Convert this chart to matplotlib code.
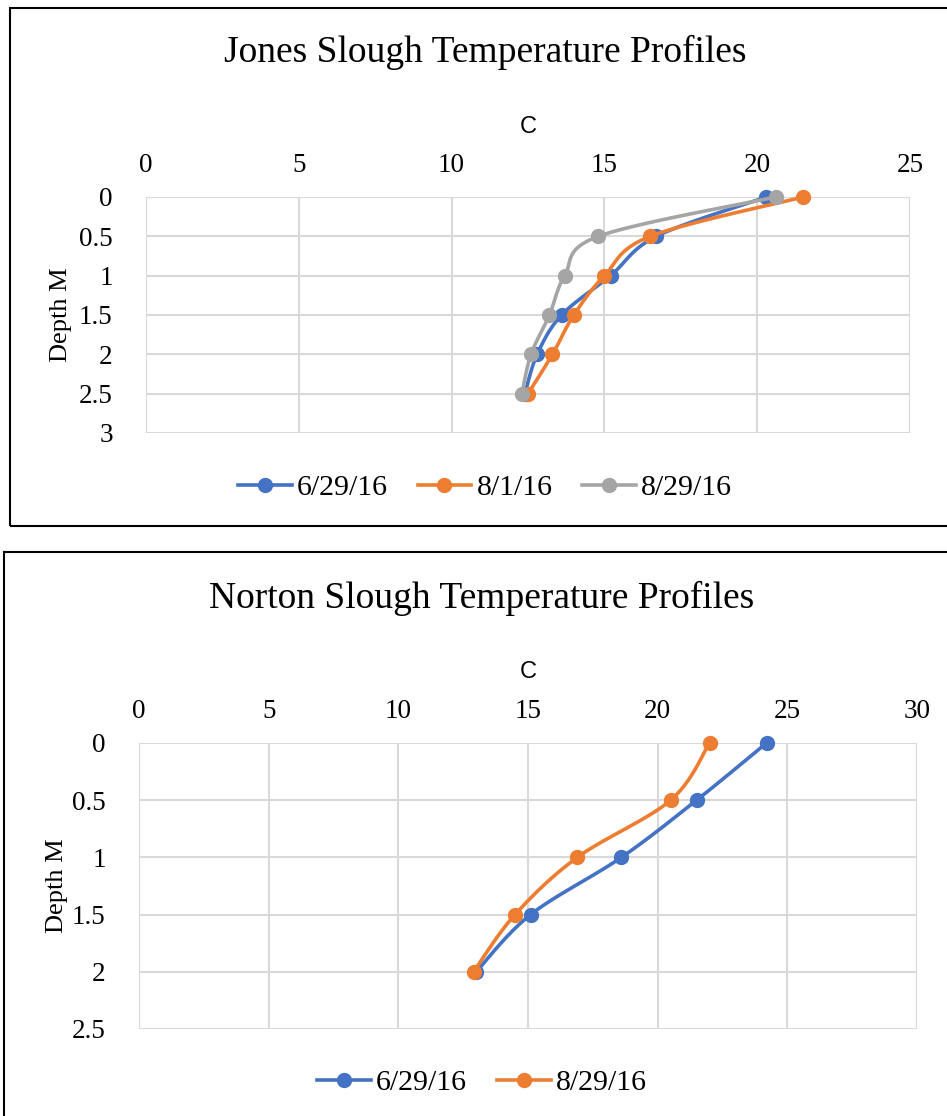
import matplotlib
matplotlib.use("Agg")
import matplotlib.pyplot as plt
import numpy as np
from matplotlib.patches import Rectangle
from matplotlib.lines import Line2D

# depth (m) and temperature (C)
jones_depth = [0, 0.5, 1, 1.5, 2, 2.5]
jones_0629 = [20.3, 16.7, 15.2, 13.6, 12.8, 12.4]
jones_0801 = [21.5, 16.5, 15.0, 14.0, 13.3, 12.5]
jones_0829 = [20.6, 14.8, 13.7, 13.2, 12.6, 12.3]
jones_labels = ['6/29/16', '8/1/16', '8/29/16']

norton_depth = [0, 0.5, 1, 1.5, 2]
norton_0629 = [24.2, 21.5, 18.6, 15.1, 13.0]
norton_0829 = [22.0, 20.5, 16.9, 14.5, 12.9]
norton_labels = ['6/29/16', '8/29/16']

colors = ['#4472C4', '#ED7D31', '#A5A5A5']
SERIF = 'Liberation Serif'
W, H = 947, 1116


def smooth(ax, xs, ys, n=20):
    # Excel-style smoothed line: Catmull-Rom in screen space
    pts = ax.transData.transform(np.column_stack([xs, ys]))
    p = np.vstack([pts[0], pts, pts[-1]])
    out = []
    for i in range(1, len(p) - 2):
        p0, p1, p2, p3 = p[i - 1], p[i], p[i + 1], p[i + 2]
        c1 = p1 + (p2 - p0) / 6.0
        c2 = p2 - (p3 - p1) / 6.0
        t = np.linspace(0, 1, n)[:, None]
        seg = ((1 - t) ** 3) * p1 + 3 * ((1 - t) ** 2) * t * c1 + 3 * (1 - t) * t ** 2 * c2 + t ** 3 * p2
        out.append(seg if i == 1 else seg[1:])
    out = np.vstack(out)
    d = ax.transData.inverted().transform(out)
    return d[:, 0], d[:, 1]


def px_axes(fig, x0, y0, x1, y1):
    return fig.add_axes([x0 / W, 1 - y1 / H, (x1 - x0) / W, (y1 - y0) / H])


def draw_panel(fig, box, ax_box, title, title_y, clabel_y, depth, series, labels, xmax, ymax, ylabel_x, leg_y):
    bx0, by0, bx1, by1 = box
    fig.patches.append(Rectangle((bx0 / W, 1 - by1 / H), (bx1 - bx0) / W, (by1 - by0) / H,
                                 transform=fig.transFigure, fill=False, edgecolor='black', lw=1.5))
    ax = px_axes(fig, *ax_box)
    ax.set_xlim(0, xmax)
    ax.set_ylim(ymax, 0)
    ax.set_xticks(np.arange(0, xmax + 1, 5))
    ax.set_yticks(np.arange(0, ymax + 0.01, 0.5))
    ax.set_yticklabels(['%g' % v for v in np.arange(0, ymax + 0.01, 0.5)])
    ax.xaxis.tick_top()
    ax.tick_params(length=0, labelsize=19.5, pad=14)
    ax.tick_params(axis='y', pad=24)
    for lab in ax.get_xticklabels() + ax.get_yticklabels():
        lab.set_fontfamily(SERIF)
    for s in ax.spines.values():
        s.set_visible(False)
    ax.grid(True, color='#D9D9D9', lw=1.5)
    ax.set_axisbelow(True)
    handles = []
    for ys, c, lab in zip(series, colors, labels):
        sx, sy = smooth(ax, ys, depth)
        ax.plot(sx, sy, color=c, lw=2.6, solid_capstyle='round', clip_on=False)
        ax.plot(ys, depth, 'o', color=c, ms=10, clip_on=False)
        handles.append(Line2D([], [], color=c, lw=2.6, marker='o', ms=10))
    fig.text(0.5 * (bx0 + bx1) / W, 1 - title_y / H, title, ha='center', va='center',
             fontsize=27, family=SERIF)
    fig.text((ax_box[0] + ax_box[2]) / 2 / W, 1 - clabel_y / H, 'C', ha='center', va='center',
             fontsize=17, family='Liberation Sans')
    fig.text(ylabel_x / W, 1 - (ax_box[1] + ax_box[3]) / 2 / H, 'Depth M', rotation=90,
             ha='center', va='center', fontsize=19, family=SERIF)
    fig.legend(handles=handles, labels=labels, loc='center', bbox_to_anchor=(0.5 * (bx0 + bx1) / W, 1 - leg_y / H),
               ncol=len(labels), frameon=False, prop={'family': SERIF, 'size': 21.5},
               handlelength=1.8, handletextpad=0.17, columnspacing=1.0)
    return ax


fig = plt.figure(figsize=(W / 100, H / 100), dpi=100)

draw_panel(fig, (10, 8, 960, 526), (146, 197, 910, 433), 'Jones Slough Temperature Profiles', 52, 127,
           jones_depth, [jones_0629, jones_0801, jones_0829], jones_labels, 25, 3, 61, 488)

draw_panel(fig, (4, 552, 960, 1130), (139, 743, 917, 1029), 'Norton Slough Temperature Profiles', 598, 672,
           norton_depth, [norton_0629, norton_0829], norton_labels, 30, 2.5, 57, 1083)

fig.savefig('out.png', dpi=100)
